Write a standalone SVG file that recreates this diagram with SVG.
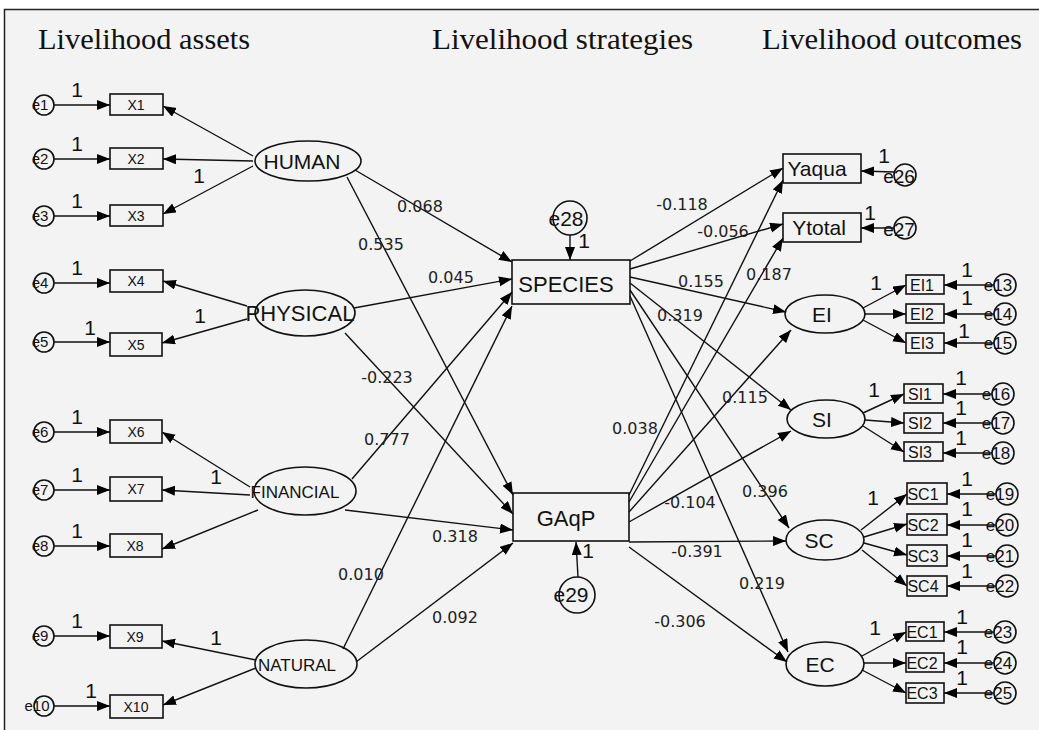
<svg xmlns="http://www.w3.org/2000/svg" width="1039" height="730" viewBox="0 0 1039 730">
<defs>
<marker id="ah" markerUnits="userSpaceOnUse" markerWidth="14" markerHeight="11" refX="13" refY="5" orient="auto">
<path d="M0,0 L13,5 L0,10 z" fill="#000"/>
</marker>
<style>
.ln{stroke:#111;stroke-width:1.4;fill:none;marker-end:url(#ah)}
.nd{fill:none;stroke:#111;stroke-width:1.6}
.t{font-family:"Liberation Sans",Arial,sans-serif;fill:#111;text-anchor:middle}
.hd{font-family:"Liberation Serif","Times New Roman",serif;font-size:30px;fill:#111}
.lb{font-family:"DejaVu Sans",Verdana,sans-serif;font-size:16px;fill:#222;text-anchor:middle}
.one{font-family:"Liberation Sans",Arial,sans-serif;font-size:21px;fill:#111;text-anchor:middle}
.ex{font-size:15px}
.ix{font-size:14px}
.ir{font-size:16px}
.er{font-size:17px}
</style>
</defs>
<rect x="0" y="0" width="1039" height="730" fill="#ffffff"/>
<rect x="4.5" y="9.5" width="1040" height="730" fill="#f3f3f3" stroke="#222" stroke-width="1.5"/>
<g id="headers">
<text class="hd" x="38" y="49" textLength="212" lengthAdjust="spacingAndGlyphs">Livelihood assets</text>
<text class="hd" x="432" y="49" textLength="261" lengthAdjust="spacingAndGlyphs">Livelihood strategies</text>
<text class="hd" x="762" y="49" textLength="260" lengthAdjust="spacingAndGlyphs">Livelihood outcomes</text>
</g>
<g id="connectors">
<line class="ln" x1="54" y1="105" x2="110" y2="105"/>
<line class="ln" x1="54" y1="159" x2="110" y2="159"/>
<line class="ln" x1="54" y1="216" x2="110" y2="216"/>
<line class="ln" x1="54" y1="283" x2="110" y2="283"/>
<line class="ln" x1="54" y1="342" x2="110" y2="342"/>
<line class="ln" x1="54" y1="432" x2="110" y2="432"/>
<line class="ln" x1="54" y1="490" x2="110" y2="490"/>
<line class="ln" x1="54" y1="546" x2="110" y2="546"/>
<line class="ln" x1="54" y1="636" x2="110" y2="636"/>
<line class="ln" x1="54" y1="706" x2="110" y2="706"/>
<line class="ln" x1="253" y1="156" x2="163" y2="106"/>
<line class="ln" x1="253" y1="161" x2="163" y2="159"/>
<line class="ln" x1="253" y1="166" x2="163" y2="214"/>
<line class="ln" x1="247" y1="306" x2="163" y2="281"/>
<line class="ln" x1="247" y1="319" x2="162" y2="343"/>
<line class="ln" x1="250" y1="487" x2="162" y2="432"/>
<line class="ln" x1="250" y1="495" x2="162" y2="490"/>
<line class="ln" x1="258" y1="510" x2="162" y2="549"/>
<line class="ln" x1="256" y1="660" x2="162" y2="641"/>
<line class="ln" x1="256" y1="668" x2="163" y2="705"/>
<line class="ln" x1="355" y1="170" x2="512" y2="262"/>
<line class="ln" x1="347" y1="177" x2="513" y2="495"/>
<line class="ln" x1="354" y1="308" x2="512" y2="279"/>
<line class="ln" x1="345" y1="333" x2="513" y2="514"/>
<line class="ln" x1="352" y1="479" x2="512" y2="292"/>
<line class="ln" x1="345" y1="510" x2="513" y2="530"/>
<line class="ln" x1="343" y1="649" x2="512" y2="306"/>
<line class="ln" x1="356" y1="662" x2="513" y2="543"/>
<line class="ln" x1="570" y1="235" x2="570" y2="260"/>
<line class="ln" x1="578" y1="577" x2="576" y2="542"/>
<line class="ln" x1="630" y1="261" x2="783" y2="168"/>
<line class="ln" x1="630" y1="269" x2="783" y2="224"/>
<line class="ln" x1="630" y1="277" x2="786" y2="312"/>
<line class="ln" x1="630" y1="283" x2="791" y2="410"/>
<line class="ln" x1="630" y1="290" x2="789" y2="528"/>
<line class="ln" x1="630" y1="296" x2="788" y2="652"/>
<line class="ln" x1="629" y1="495" x2="783" y2="180"/>
<line class="ln" x1="629" y1="502" x2="783" y2="238"/>
<line class="ln" x1="629" y1="512" x2="791" y2="330"/>
<line class="ln" x1="629" y1="522" x2="791" y2="431"/>
<line class="ln" x1="629" y1="542" x2="786" y2="541"/>
<line class="ln" x1="629" y1="547" x2="787" y2="662"/>
<line class="ln" x1="894" y1="172" x2="861" y2="171"/>
<line class="ln" x1="894" y1="228" x2="861" y2="228"/>
<line class="ln" x1="863" y1="308" x2="906" y2="285"/>
<line class="ln" x1="865" y1="314" x2="906" y2="314"/>
<line class="ln" x1="863" y1="320" x2="906" y2="343"/>
<line class="ln" x1="863" y1="413" x2="904" y2="394"/>
<line class="ln" x1="865" y1="420" x2="904" y2="423"/>
<line class="ln" x1="863" y1="426" x2="904" y2="452"/>
<line class="ln" x1="861" y1="530" x2="907" y2="494"/>
<line class="ln" x1="864" y1="537" x2="907" y2="524"/>
<line class="ln" x1="864" y1="543" x2="907" y2="555"/>
<line class="ln" x1="862" y1="550" x2="907" y2="586"/>
<line class="ln" x1="862" y1="656" x2="906" y2="632"/>
<line class="ln" x1="864" y1="663" x2="906" y2="663"/>
<line class="ln" x1="862" y1="670" x2="906" y2="693"/>
<line class="ln" x1="994" y1="285" x2="944" y2="285"/>
<line class="ln" x1="994" y1="314" x2="944" y2="314"/>
<line class="ln" x1="994" y1="343" x2="944" y2="343"/>
<line class="ln" x1="992" y1="394" x2="943" y2="394"/>
<line class="ln" x1="992" y1="423" x2="943" y2="423"/>
<line class="ln" x1="992" y1="453" x2="943" y2="453"/>
<line class="ln" x1="996" y1="494" x2="947" y2="494"/>
<line class="ln" x1="996" y1="525" x2="947" y2="525"/>
<line class="ln" x1="996" y1="556" x2="947" y2="556"/>
<line class="ln" x1="996" y1="586" x2="947" y2="586"/>
<line class="ln" x1="994" y1="632" x2="944" y2="632"/>
<line class="ln" x1="994" y1="663" x2="944" y2="663"/>
<line class="ln" x1="994" y1="693" x2="944" y2="693"/>
</g>
<g id="connector-labels">
<text class="lb" x="420" y="212">0.068</text>
<text class="lb" x="381" y="250">0.535</text>
<text class="lb" x="451" y="283">0.045</text>
<text class="lb" x="387" y="383">-0.223</text>
<text class="lb" x="387" y="445">0.777</text>
<text class="lb" x="455" y="542">0.318</text>
<text class="lb" x="361" y="580">0.010</text>
<text class="lb" x="455" y="623">0.092</text>
<text class="lb" x="682" y="210">-0.118</text>
<text class="lb" x="723" y="237">-0.056</text>
<text class="lb" x="701" y="287">0.155</text>
<text class="lb" x="769" y="280">0.187</text>
<text class="lb" x="680" y="321">0.319</text>
<text class="lb" x="745" y="403">0.115</text>
<text class="lb" x="635" y="434">0.038</text>
<text class="lb" x="690" y="508">-0.104</text>
<text class="lb" x="765" y="497">0.396</text>
<text class="lb" x="697" y="557">-0.391</text>
<text class="lb" x="762" y="589">0.219</text>
<text class="lb" x="680" y="627">-0.306</text>
</g>
<g id="fixed-ones">
<text class="one" x="77" y="97">1</text>
<text class="one" x="77" y="151">1</text>
<text class="one" x="77" y="208">1</text>
<text class="one" x="77" y="275">1</text>
<text class="one" x="90" y="335">1</text>
<text class="one" x="77" y="424">1</text>
<text class="one" x="77" y="482">1</text>
<text class="one" x="77" y="538">1</text>
<text class="one" x="77" y="628">1</text>
<text class="one" x="91" y="698">1</text>
<text class="one" x="199" y="183">1</text>
<text class="one" x="200" y="323">1</text>
<text class="one" x="216" y="484">1</text>
<text class="one" x="216" y="645">1</text>
<text class="one" x="584" y="248">1</text>
<text class="one" x="588" y="558">1</text>
<text class="one" x="884" y="163">1</text>
<text class="one" x="870" y="220">1</text>
<text class="one" x="876" y="290">1</text>
<text class="one" x="874" y="397">1</text>
<text class="one" x="873" y="505">1</text>
<text class="one" x="875" y="635">1</text>
<text class="one" x="967" y="277">1</text>
<text class="one" x="967" y="305">1</text>
<text class="one" x="964" y="338">1</text>
<text class="one" x="961" y="385">1</text>
<text class="one" x="961" y="415">1</text>
<text class="one" x="961" y="445">1</text>
<text class="one" x="967" y="486">1</text>
<text class="one" x="967" y="516">1</text>
<text class="one" x="967" y="547">1</text>
<text class="one" x="967" y="578">1</text>
<text class="one" x="962" y="624">1</text>
<text class="one" x="962" y="654">1</text>
<text class="one" x="962" y="685">1</text>
</g>
<g id="e1"><circle class="nd" cx="44" cy="105" r="10"/><text class="t ex" x="40" y="110">e1</text></g>
<g id="e2"><circle class="nd" cx="44" cy="159" r="10"/><text class="t ex" x="40" y="164">e2</text></g>
<g id="e3"><circle class="nd" cx="44" cy="216" r="10"/><text class="t ex" x="40" y="221">e3</text></g>
<g id="e4"><circle class="nd" cx="44" cy="283" r="10"/><text class="t ex" x="40" y="288">e4</text></g>
<g id="e5"><circle class="nd" cx="44" cy="342" r="10"/><text class="t ex" x="40" y="347">e5</text></g>
<g id="e6"><circle class="nd" cx="44" cy="432" r="10"/><text class="t ex" x="40" y="437">e6</text></g>
<g id="e7"><circle class="nd" cx="44" cy="490" r="10"/><text class="t ex" x="40" y="495">e7</text></g>
<g id="e8"><circle class="nd" cx="44" cy="546" r="10"/><text class="t ex" x="40" y="551">e8</text></g>
<g id="e9"><circle class="nd" cx="44" cy="636" r="10"/><text class="t ex" x="40" y="641">e9</text></g>
<g id="e10"><circle class="nd" cx="44" cy="706" r="10"/><text class="t ex" x="37" y="711">e10</text></g>
<g id="X1"><rect class="nd" x="110" y="94" width="53" height="21"/><text class="t ix" x="136" y="110">X1</text></g>
<g id="X2"><rect class="nd" x="110" y="148" width="53" height="21"/><text class="t ix" x="136" y="164">X2</text></g>
<g id="X3"><rect class="nd" x="110" y="205" width="53" height="21"/><text class="t ix" x="136" y="221">X3</text></g>
<g id="X4"><rect class="nd" x="110" y="270" width="53" height="22"/><text class="t ix" x="136" y="286">X4</text></g>
<g id="X5"><rect class="nd" x="110" y="333" width="52" height="23"/><text class="t ix" x="136" y="350">X5</text></g>
<g id="X6"><rect class="nd" x="110" y="420" width="52" height="23"/><text class="t ix" x="136" y="437">X6</text></g>
<g id="X7"><rect class="nd" x="110" y="477" width="52" height="24"/><text class="t ix" x="136" y="494">X7</text></g>
<g id="X8"><rect class="nd" x="110" y="534" width="52" height="23"/><text class="t ix" x="135" y="551">X8</text></g>
<g id="X9"><rect class="nd" x="110" y="625" width="52" height="23"/><text class="t ix" x="135" y="642">X9</text></g>
<g id="X10"><rect class="nd" x="110" y="695" width="53" height="23"/><text class="t ix" x="136" y="712">X10</text></g>
<g id="HUMAN"><ellipse class="nd" cx="308" cy="161" rx="53" ry="20"/><text class="t" x="302" y="169" font-size="21">HUMAN</text></g>
<g id="PHYSICAL"><ellipse class="nd" cx="305" cy="313" rx="50" ry="23"/><text class="t" x="300" y="321" font-size="22">PHYSICAL</text></g>
<g id="FINANCIAL"><ellipse class="nd" cx="305" cy="491" rx="51" ry="24"/><text class="t" x="295" y="498" font-size="17">FINANCIAL</text></g>
<g id="NATURAL"><ellipse class="nd" cx="306" cy="664" rx="51" ry="24"/><text class="t" x="297" y="671" font-size="17">NATURAL</text></g>
<g id="SPECIES"><rect class="nd" x="512" y="260" width="118" height="44"/><text class="t" x="566" y="292" font-size="22">SPECIES</text></g>
<g id="e28"><circle class="nd" cx="570" cy="218" r="17"/><text class="t" x="566" y="226" font-size="21">e28</text></g>
<g id="GAqP"><rect class="nd" x="513" y="493" width="116" height="48"/><text class="t" x="566" y="526" font-size="22">GAqP</text></g>
<g id="e29"><circle class="nd" cx="577" cy="595" r="18"/><text class="t" x="571" y="602" font-size="21">e29</text></g>
<g id="Yaqua"><rect class="nd" x="783" y="154" width="78" height="29"/><text class="t" x="817" y="176" font-size="21">Yaqua</text></g>
<g id="Ytotal"><rect class="nd" x="783" y="213" width="78" height="29"/><text class="t" x="819" y="235" font-size="21">Ytotal</text></g>
<g id="e26"><circle class="nd" cx="905" cy="175" r="11"/><text class="t" x="899" y="183" font-size="19">e26</text></g>
<g id="e27"><circle class="nd" cx="905" cy="228" r="11"/><text class="t" x="899" y="236" font-size="19">e27</text></g>
<g id="EI"><ellipse class="nd" cx="825" cy="314" rx="40" ry="19"/><text class="t" x="822" y="322" font-size="21">EI</text></g>
<g id="SI"><ellipse class="nd" cx="826" cy="419" rx="39" ry="19"/><text class="t" x="822" y="427" font-size="21">SI</text></g>
<g id="SC"><ellipse class="nd" cx="825" cy="540" rx="39" ry="20"/><text class="t" x="819" y="548" font-size="21">SC</text></g>
<g id="EC"><ellipse class="nd" cx="825" cy="664" rx="39" ry="22"/><text class="t" x="820" y="672" font-size="21">EC</text></g>
<g id="EI1"><rect class="nd" x="906" y="275" width="38" height="19"/><text class="t ir" x="922" y="291">EI1</text></g>
<g id="EI2"><rect class="nd" x="906" y="304" width="38" height="19"/><text class="t ir" x="922" y="320">EI2</text></g>
<g id="EI3"><rect class="nd" x="906" y="333" width="38" height="20"/><text class="t ir" x="922" y="349">EI3</text></g>
<g id="SI1"><rect class="nd" x="904" y="384" width="39" height="19"/><text class="t ir" x="920" y="400">SI1</text></g>
<g id="SI2"><rect class="nd" x="904" y="413" width="39" height="20"/><text class="t ir" x="920" y="429">SI2</text></g>
<g id="SI3"><rect class="nd" x="904" y="442" width="39" height="19"/><text class="t ir" x="920" y="458">SI3</text></g>
<g id="SC1"><rect class="nd" x="907" y="483" width="40" height="21"/><text class="t ir" x="923" y="500">SC1</text></g>
<g id="SC2"><rect class="nd" x="907" y="514" width="40" height="21"/><text class="t ir" x="923" y="531">SC2</text></g>
<g id="SC3"><rect class="nd" x="907" y="545" width="40" height="21"/><text class="t ir" x="923" y="562">SC3</text></g>
<g id="SC4"><rect class="nd" x="907" y="576" width="40" height="20"/><text class="t ir" x="923" y="592">SC4</text></g>
<g id="EC1"><rect class="nd" x="906" y="622" width="38" height="19"/><text class="t ir" x="922" y="638">EC1</text></g>
<g id="EC2"><rect class="nd" x="906" y="653" width="38" height="19"/><text class="t ir" x="922" y="669">EC2</text></g>
<g id="EC3"><rect class="nd" x="906" y="683" width="38" height="20"/><text class="t ir" x="922" y="699">EC3</text></g>
<g id="e13"><circle class="nd" cx="1005" cy="285" r="11"/><text class="t er" x="998" y="291">e13</text></g>
<g id="e14"><circle class="nd" cx="1005" cy="314" r="11"/><text class="t er" x="998" y="320">e14</text></g>
<g id="e15"><circle class="nd" cx="1005" cy="343" r="11"/><text class="t er" x="998" y="349">e15</text></g>
<g id="e16"><circle class="nd" cx="1003" cy="394" r="11"/><text class="t er" x="996" y="400">e16</text></g>
<g id="e17"><circle class="nd" cx="1003" cy="423" r="11"/><text class="t er" x="996" y="429">e17</text></g>
<g id="e18"><circle class="nd" cx="1003" cy="453" r="11"/><text class="t er" x="996" y="459">e18</text></g>
<g id="e19"><circle class="nd" cx="1007" cy="494" r="11"/><text class="t er" x="1000" y="500">e19</text></g>
<g id="e20"><circle class="nd" cx="1007" cy="525" r="11"/><text class="t er" x="1000" y="531">e20</text></g>
<g id="e21"><circle class="nd" cx="1007" cy="556" r="11"/><text class="t er" x="1000" y="562">e21</text></g>
<g id="e22"><circle class="nd" cx="1007" cy="586" r="11"/><text class="t er" x="1000" y="592">e22</text></g>
<g id="e23"><circle class="nd" cx="1005" cy="632" r="11"/><text class="t er" x="998" y="638">e23</text></g>
<g id="e24"><circle class="nd" cx="1005" cy="663" r="11"/><text class="t er" x="998" y="669">e24</text></g>
<g id="e25"><circle class="nd" cx="1005" cy="693" r="11"/><text class="t er" x="998" y="699">e25</text></g>
</svg>
